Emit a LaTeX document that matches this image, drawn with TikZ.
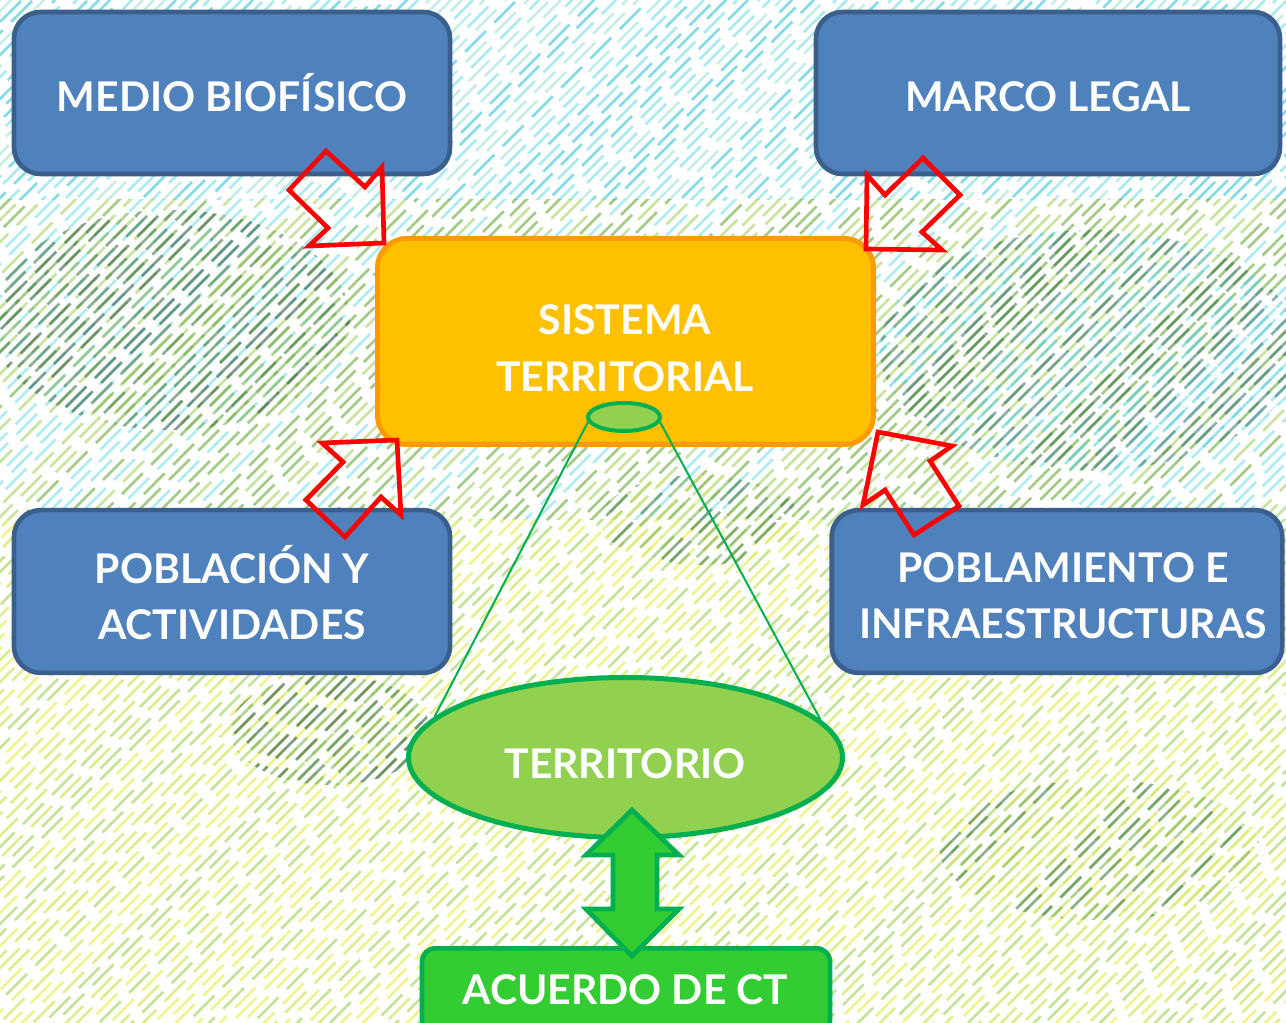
\documentclass[tikz,border=0pt]{standalone}
\usepackage{fontspec}
\setmainfont{Lato}
\usetikzlibrary{shapes.geometric}
\definecolor{boxblue}{HTML}{4F81BD}
\definecolor{boxblueline}{HTML}{3A5F8D}
\definecolor{sysfill}{HTML}{FFC000}
\definecolor{sysline}{HTML}{FF9A00}
\definecolor{lgreen}{HTML}{92D050}
\definecolor{dgreen}{HTML}{00B050}
\definecolor{agreen}{HTML}{33CC33}
\definecolor{c1}{HTML}{8FE3EA}
\definecolor{c2}{HTML}{5CCFDF}
\definecolor{c3}{HTML}{B5E8E0}
\definecolor{g1}{HTML}{B2D978}
\definecolor{g2}{HTML}{7DB555}
\definecolor{g3}{HTML}{3E7D45}
\definecolor{g4}{HTML}{2B5E3E}
\definecolor{t1}{HTML}{3F7F7A}
\definecolor{y1}{HTML}{EAF06E}
\definecolor{y2}{HTML}{D3E86A}
\definecolor{y3}{HTML}{F3F4A0}
\tikzset{
  stroke/.style={line width=2pt, dash pattern=on 22pt off 9pt},
  bluebox/.style={draw=boxblueline, fill=boxblue, line width=3.5pt, rounded corners=20pt, inner sep=0pt},
  lbl/.style={text=white, font=\fontsize{30.7}{38}\selectfont\bfseries, inner sep=0pt, anchor=base},
  redarrow/.style={draw=red, line width=3.5pt, line join=miter},
}
\newcommand\stripeband[4]{%
  \foreach \i in {0,11,...,2320}{%
    \pgfmathrandominteger{\rr}{0}{2}%
    \pgfmathrandominteger{\pp}{0}{31}%
    \ifcase\rr \def\cc{#2}\or\def\cc{#3}\else\def\cc{#4}\fi
    \draw[stroke, \cc, dash phase=\pp pt, opacity=#1] (\i,0) -- ++(-1300,1300);
  }%
}
\begin{document}
\begin{tikzpicture}[x=0.75pt, y=-0.75pt]
\useasboundingbox (0,0) rectangle (1286,1023);
\pgfmathsetseed{11}
\begin{scope}
  \clip (0,0) rectangle (1286,1023);
  \fill[white] (0,0) rectangle (1286,1023);
  % background texture
  \begin{scope}
    \clip (0,0) rectangle (1286,200);
    \stripeband{0.75}{c1}{c2}{c3}
  \end{scope}
  \begin{scope}
    \clip (0,200) rectangle (1286,520);
    \stripeband{0.7}{g1}{g2}{c1}
  \end{scope}
  \begin{scope}
    \clip (0,520) rectangle (1286,1023);
    \stripeband{0.75}{y1}{y2}{g1}
  \end{scope}
  % darker patches
  \begin{scope}
    \clip (170,320) ellipse (180 and 110);
    \stripeband{0.6}{g3}{g2}{g4}
  \end{scope}
  \begin{scope}
    \clip (1090,350) ellipse (210 and 120);
    \stripeband{0.6}{t1}{g3}{c2}
  \end{scope}
  \begin{scope}
    \clip (330,730) ellipse (100 and 55);
    \stripeband{0.6}{g3}{g2}{g4}
  \end{scope}
  \begin{scope}
    \clip (1100,850) ellipse (160 and 70);
    \stripeband{0.6}{g3}{g2}{y2}
  \end{scope}
  \begin{scope}
    \clip (700,520) ellipse (100 and 45);
    \stripeband{0.6}{g2}{g3}{y2}
  \end{scope}

  % boxes
  \node[bluebox, minimum width=327pt, minimum height=121.5pt] (medio) at (232,93) {};
  \node[bluebox, minimum width=348pt, minimum height=121.5pt] (marco) at (1048,93) {};
  \node[bluebox, minimum width=327pt, minimum height=122pt] (pobl) at (232,591.5) {};
  \node[bluebox, minimum width=338pt, minimum height=122pt] (poblam) at (1057,591.5) {};
  \node[draw=sysline, fill=sysfill, line width=3.75pt, rounded corners=22pt, inner sep=0pt,
        minimum width=372pt, minimum height=154.5pt] (sist) at (625.5,341.5) {};

  % texts
  \node[lbl] (tmedio) at (232,112) {MEDIO BIOFÍSICO};
  \node[lbl] (tmarco) at (1048,112) {MARCO LEGAL};
  \node[lbl] (tsist1) at (625,335) {SISTEMA};
  \node[lbl] (tsist2) at (625,392) {TERRITORIAL};
  \node[lbl] (tpobl1) at (232,583) {POBLACIÓN Y};
  \node[lbl] (tpobl2) at (232,639) {ACTIVIDADES};
  \node[lbl] (tpoblam1) at (1063,582) {POBLAMIENTO E};
  \node[lbl] (tpoblam2) at (1063,638) {INFRAESTRUCTURAS};

  % red block arrows
  \draw[redarrow] (384,243) -- (382,167) -- (365,187) -- (326,151) -- (289,190) -- (328,228) -- (309,246) -- cycle;
  \draw[redarrow] (866,249) -- (867,175) -- (885,195) -- (923,158) -- (960,195) -- (922,232) -- (942,250) -- cycle;
  \draw[redarrow] (397,440) -- (322,443) -- (343,462) -- (306,500) -- (345,537) -- (381,497) -- (401,515) -- cycle;
  \draw[redarrow] (878,432) -- (952,446) -- (930,461) -- (959,506) -- (914,535) -- (885,490) -- (863,505) -- cycle;

  % ellipses
  \node[ellipse, draw=dgreen, fill=lgreen, line width=3pt, inner sep=0pt,
        minimum width=54pt, minimum height=21pt] (lens) at (624,417) {};
  \node[ellipse, draw=dgreen, fill=lgreen, line width=3.75pt, inner sep=0pt,
        minimum width=325.5pt, minimum height=120pt] (terr) at (625.5,757.5) {};
  \draw[dgreen, line width=1.5pt] (lens.188) -- (terr.168.5);
  \draw[dgreen, line width=1.5pt] (lens.352) -- (terr.11);
  \node[lbl] (tterr) at (625,778) {TERRITORIO};

  % acuerdo box
  \node[draw=dgreen, fill=agreen, line width=3.5pt, rounded corners=10pt, inner sep=0pt,
        minimum width=306pt, minimum height=64pt] (acuerdo) at (626,991) {};
  \node[lbl] (tacuerdo) at (625.5,1004) {ACUERDO DE CT};

  % double arrow between territorio and acuerdo
  \draw[draw=dgreen, fill=agreen, line width=3.5pt, line join=miter]
    (632,810) -- (679,855) -- (657,855) -- (657,909) -- (679,909) -- (632,956)
    -- (586,909) -- (613,909) -- (613,855) -- (586,855) -- cycle;
\end{scope}
\end{tikzpicture}
\end{document}
